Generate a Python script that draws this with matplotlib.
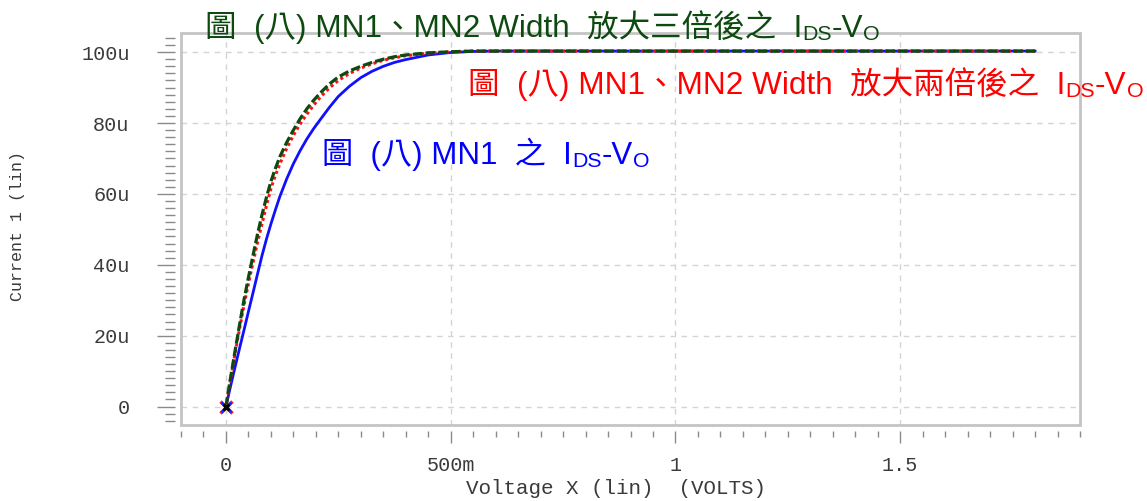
import matplotlib
matplotlib.use("Agg")
import matplotlib.pyplot as plt
from matplotlib.patches import Rectangle
from matplotlib.ticker import MultipleLocator, FixedLocator

W, H = 1147, 501

# drain voltage (V) and drain current (uA)
volts = [0, 0.01, 0.02, 0.03, 0.04, 0.05, 0.06, 0.07, 0.08, 0.09, 0.10, 0.11,
         0.12, 0.135, 0.15, 0.165, 0.18, 0.195, 0.21, 0.23, 0.25, 0.275, 0.30,
         0.325, 0.35, 0.375, 0.40, 0.45, 0.50, 0.55, 0.60, 0.80, 1.0, 1.2, 1.4,
         1.6, 1.8]
i_mn1 = [0, 5.6, 11, 16.3, 21.5, 26.8, 32, 37.3, 42.5, 47.2, 51.5, 55.5,
         59.3, 64.2, 68.5, 72.2, 75.5, 78.4, 81, 84.4, 87.5, 90.4, 92.8,
         94.6, 96, 97.1, 97.9, 99.2, 99.9, 100.2, 100.3, 100.3, 100.3, 100.3,
         100.3, 100.3, 100.3]
i_x2 = [0, 7.5, 14.8, 21.8, 28.5, 34.7, 40.5, 46.2, 51.5, 56.7, 61.5, 65.2,
        68.5, 72.8, 76.5, 79.7, 82.5, 85, 87.3, 89.9, 92, 94, 95.5,
        96.7, 97.7, 98.4, 99, 99.7, 100.1, 100.3, 100.3, 100.3, 100.3, 100.3,
        100.3, 100.3, 100.3]
i_x3 = [0, 7.9, 15.5, 22.9, 30, 36.4, 42.5, 48.5, 54, 59, 63.5, 67.2,
        70.5, 74.5, 78, 81.2, 84, 86.4, 88.5, 91, 93, 94.7, 96,
        97.1, 98, 98.7, 99.2, 99.8, 100.1, 100.3, 100.3, 100.3, 100.3, 100.3,
        100.3, 100.3, 100.3]

xticks = [0, 0.5, 1, 1.5]
xtick_labels = ["0", "500m", "1", "1.5"]
yticks = [0, 20, 40, 60, 80, 100]
ytick_labels = ["0", "20u", "40u", "60u", "80u", "100u"]

mono = "Liberation Mono"
cjk = ["Liberation Sans", "Noto Sans CJK TC", "DejaVu Sans"]
green = "#0d4a10"

fig = plt.figure(figsize=(W / 100, H / 100), dpi=100)
ax = fig.add_axes([181 / W, 1 - 425 / H, (1080 - 181) / W, (425 - 33) / H])

ax.plot(volts, i_mn1, color="#1010ff", lw=2.0, zorder=3)
ax.plot(volts, i_x2, color="#ff1010", lw=2.2, ls=(0, (1, 1)), zorder=4)
ax.plot(volts, i_x3, color=green, lw=2.3, ls=(0, (3, 1)), zorder=5)
ax.plot([0], [0], "x", color="#ff2020", ms=8, mew=2.5, zorder=6)
ax.plot([0], [0], "x", color="#2020ff", ms=7, mew=2, zorder=6)
ax.plot([0], [0], "x", color="black", ms=5, mew=2, zorder=7)

ax.set_xlim(-0.1, 1.9)
ax.set_ylim(-5.2, 105.4)

ax.xaxis.set_major_locator(FixedLocator(xticks))
ax.set_xticklabels(xtick_labels)
ax.xaxis.set_minor_locator(MultipleLocator(0.05))
ax.yaxis.set_major_locator(FixedLocator(yticks))
ax.set_yticklabels(ytick_labels)
ax.yaxis.set_minor_locator(MultipleLocator(2))

ax.grid(True, which="major", color="#d4d4d4", ls=(0, (4, 4)), lw=1.0)
ax.set_axisbelow(True)

for side in ["left", "bottom"]:
    ax.spines[side].set_position(("outward", 4))
    ax.spines[side].set_visible(False)
for side in ["top", "right"]:
    ax.spines[side].set_visible(False)
ax.add_patch(Rectangle((0, 0), 1, 1, transform=ax.transAxes, fill=False,
                       edgecolor="#c4c4c4", lw=2.0, zorder=2, clip_on=False))

ax.tick_params(axis="y", which="major", length=13, width=1.0, color="#8a8a8a",
               pad=20, labelsize=14.5, labelcolor="#3a3a3a")
ax.tick_params(axis="y", which="minor", length=7, width=1.0, color="#8a8a8a")
ax.tick_params(axis="x", which="major", length=8.5, width=1.0, color="#8a8a8a",
               pad=10, labelsize=14.5, labelcolor="#3a3a3a")
ax.tick_params(axis="x", which="minor", length=4, width=1.0, color="#8a8a8a")
for lab in ax.get_xticklabels() + ax.get_yticklabels():
    lab.set_family(mono)

fig.text(616 / W, 1 - 489 / H, "Voltage X (lin)  (VOLTS)", family=mono,
         fontsize=15, color="#3a3a3a", ha="center", va="center")
fig.text(18 / W, 1 - 226 / H, "Current 1 (lin)", family=mono, fontsize=12,
         color="#3a3a3a", ha="center", va="center", rotation=90)


def rich_text(x, y, parts, color, size):
    # draw pieces one after another, subscripts smaller and lower
    renderer = fig.canvas.get_renderer()
    px = x
    for s, sub in parts:
        fs = size * 0.68 if sub else size
        yy = y + 3 if sub else y
        t = fig.text(px / W, 1 - yy / H, s, fontsize=fs, color=color,
                     family=cjk, ha="left", va="baseline")
        px += t.get_window_extent(renderer).width


rich_text(205, 37, [("圖  (八) MN1、MN2 Width  放大三倍後之  I", False), ("DS", True),
                    ("-V", False), ("O", True)], green, 22.7)
rich_text(468, 94, [("圖  (八) MN1、MN2 Width  放大兩倍後之  I", False), ("DS", True),
                    ("-V", False), ("O", True)], "#ff0000", 22.7)
rich_text(322, 164, [("圖  (八) MN1  之  I", False), ("DS", True),
                      ("-V", False), ("O", True)], "#0000ff", 22.5)

fig.savefig("out.png", dpi=100)
